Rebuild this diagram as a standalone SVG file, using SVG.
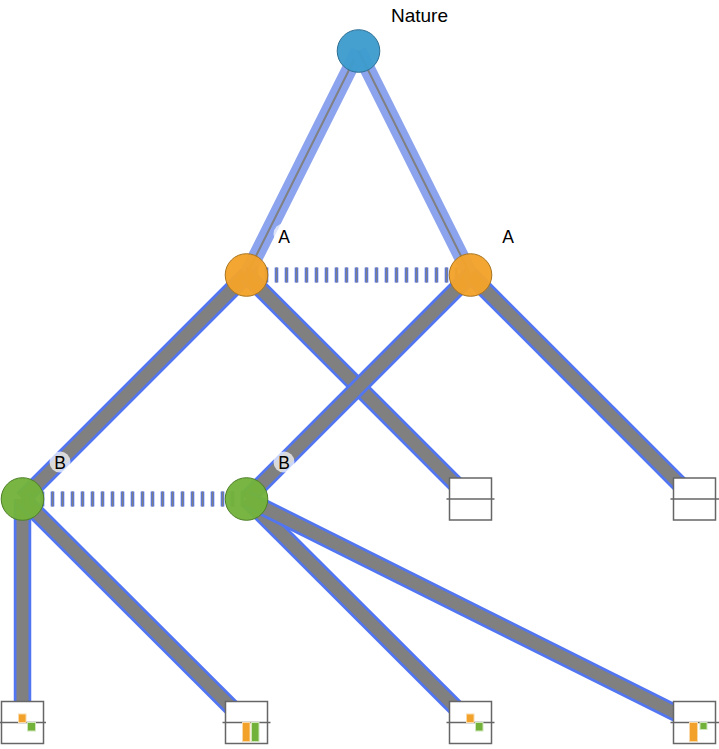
<svg xmlns="http://www.w3.org/2000/svg" width="719" height="749" viewBox="0 0 719 749">
<defs>
<style>
.top-bg{stroke:#8ca4ee;stroke-width:15.5;fill:none}
.top{stroke:#808080;stroke-width:2;fill:none}
.e-bg{stroke:#5275f2;stroke-width:17.5;fill:none}
.e{stroke:#808080;stroke-width:12;fill:none}
.d-bg{stroke:#5275f2;stroke-width:15;stroke-dasharray:3.6 6.4;fill:none}
.d{stroke:#808080;stroke-width:15;stroke-dasharray:1.6 8.4;fill:none}
.node{stroke-width:1;fill-opacity:0.96}
.nature{fill:#3d9bcd;stroke:#2f6f93}
.a{fill:#f2a22a;stroke:#a8741f}
.b{fill:#72b23a;stroke:#4d7e28}
.lbl-bg{fill:#ffffff;fill-opacity:0.7}
.lbl{font-family:"Liberation Sans",Arial,Helvetica,sans-serif;font-size:17.5px;fill:#000;text-anchor:middle}
.title{font-family:"Liberation Sans",Arial,Helvetica,sans-serif;font-size:19px;fill:#000;text-anchor:middle}
.box{fill:#fff;stroke:#666;stroke-width:1.5}
.axis{stroke:#666;stroke-width:1.5}
.or{fill:#f2a22a;stroke:#f9d9a8;stroke-width:1}
.gr{fill:#72b23a;stroke:#cfe6bb;stroke-width:1}
</style>
</defs>
<g id="connectors">
  <g id="e-nature-a1"><line class="top-bg" x1="358.5" y1="51" x2="246.5" y2="275"/><line class="top" x1="358.5" y1="51" x2="246.5" y2="275"/></g>
  <g id="e-nature-a2"><line class="top-bg" x1="358.5" y1="51" x2="470.5" y2="275"/><line class="top" x1="358.5" y1="51" x2="470.5" y2="275"/></g>
  <g id="e-a1-b1"><line class="e-bg" x1="246.5" y1="275" x2="22.5" y2="499"/><line class="e" x1="246.5" y1="275" x2="22.5" y2="499"/></g>
  <g id="e-a1-l1"><line class="e-bg" x1="246.5" y1="275" x2="470.5" y2="499"/><line class="e" x1="246.5" y1="275" x2="470.5" y2="499"/></g>
  <g id="e-a2-b2"><line class="e-bg" x1="470.5" y1="275" x2="246.5" y2="499"/><line class="e" x1="470.5" y1="275" x2="246.5" y2="499"/></g>
  <g id="e-a2-l2"><line class="e-bg" x1="470.5" y1="275" x2="694.5" y2="499"/><line class="e" x1="470.5" y1="275" x2="694.5" y2="499"/></g>
  <g id="e-b1-l3"><line class="e-bg" x1="22.5" y1="499" x2="22.5" y2="722.5"/><line class="e" x1="22.5" y1="499" x2="22.5" y2="722.5"/></g>
  <g id="e-b1-l4"><line class="e-bg" x1="22.5" y1="499" x2="246.5" y2="722.5"/><line class="e" x1="22.5" y1="499" x2="246.5" y2="722.5"/></g>
  <g id="e-b2-l5"><line class="e-bg" x1="246.5" y1="499" x2="470.5" y2="722.5"/><line class="e" x1="246.5" y1="499" x2="470.5" y2="722.5"/></g>
  <g id="e-b2-l6"><line class="e-bg" x1="246.5" y1="499" x2="694.5" y2="722.5"/><line class="e" x1="246.5" y1="499" x2="694.5" y2="722.5"/></g>
  <g id="info-a"><line class="d-bg" x1="246.5" y1="275" x2="470.5" y2="275" stroke-dashoffset="1.8"/><line class="d" x1="246.5" y1="275" x2="470.5" y2="275" stroke-dashoffset="0.8"/></g>
  <g id="info-b"><line class="d-bg" x1="22.5" y1="499" x2="246.5" y2="499" stroke-dashoffset="1.8"/><line class="d" x1="22.5" y1="499" x2="246.5" y2="499" stroke-dashoffset="0.8"/></g>
</g>
<g id="label-a1"><circle class="lbl-bg" cx="284" cy="234" r="10.5"/><text class="lbl" x="284" y="243">A</text></g>
<g id="label-a2"><circle class="lbl-bg" cx="508" cy="234" r="10.5"/><text class="lbl" x="508" y="243">A</text></g>
<g id="label-b1"><circle class="lbl-bg" cx="60" cy="462" r="10.5"/><text class="lbl" x="60" y="468.5">B</text></g>
<g id="label-b2"><circle class="lbl-bg" cx="284" cy="462" r="10.5"/><text class="lbl" x="284" y="468.5">B</text></g>
<g id="node-nature"><circle class="node nature" cx="358.5" cy="51" r="21.3"/><text class="title" x="419.5" y="21.5">Nature</text></g>
<g id="node-a1"><circle class="node a" cx="246.5" cy="275" r="21.3"/></g>
<g id="node-a2"><circle class="node a" cx="470.5" cy="275" r="21.3"/></g>
<g id="node-b1"><circle class="node b" cx="22.5" cy="499" r="21.3"/></g>
<g id="node-b2"><circle class="node b" cx="246.5" cy="499" r="21.3"/></g>
<g id="leaf-1"><rect class="box" x="449.5" y="478" width="42" height="42"/><line class="axis" x1="446.5" y1="499" x2="494.5" y2="499"/></g>
<g id="leaf-2"><rect class="box" x="673.5" y="478" width="42" height="42"/><line class="axis" x1="670.5" y1="499" x2="719" y2="499"/></g>
<g id="leaf-3"><rect class="box" x="1.5" y="701.5" width="42" height="42"/><line class="axis" x1="0" y1="722.5" x2="46" y2="722.5"/>
  <rect class="or" x="18.5" y="714" width="7.5" height="8.5"/><rect class="gr" x="27.5" y="722.5" width="8" height="8.5"/></g>
<g id="leaf-4"><rect class="box" x="225.5" y="701.5" width="42" height="42"/><line class="axis" x1="222.5" y1="722.5" x2="270.5" y2="722.5"/>
  <rect class="or" x="242.5" y="722.5" width="7.5" height="19"/><rect class="gr" x="251.5" y="722.5" width="7.5" height="19"/></g>
<g id="leaf-5"><rect class="box" x="449.5" y="701.5" width="42" height="42"/><line class="axis" x1="446.5" y1="722.5" x2="494.5" y2="722.5"/>
  <rect class="or" x="466.5" y="714" width="7.5" height="8.5"/><rect class="gr" x="475.5" y="722.5" width="7.5" height="8.5"/></g>
<g id="leaf-6"><rect class="box" x="673.5" y="701.5" width="42" height="42"/><line class="axis" x1="670.5" y1="722.5" x2="719" y2="722.5"/>
  <rect class="or" x="689.5" y="722.5" width="8" height="19"/><rect class="gr" x="700" y="722.5" width="7" height="7"/></g>
</svg>
